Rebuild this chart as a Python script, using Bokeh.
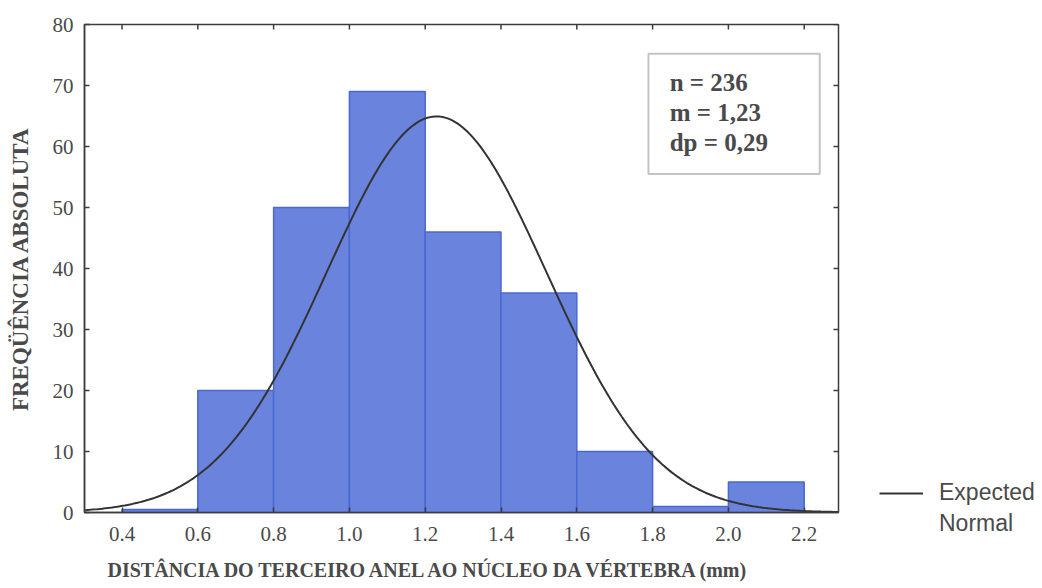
import numpy as np
from bokeh.plotting import figure
from bokeh.models import (FixedTicker, LinearAxis, Legend, LegendItem, Label, Title,
                          Range1d, ColumnDataSource, CustomJSTickFormatter, BoxAnnotation)
from bokeh.embed import file_html
from bokeh.resources import INLINE

# ---- data ----
bin_left = [0.4, 0.6, 0.8, 1.0, 1.2, 1.4, 1.6, 1.8, 2.0]
bin_right = [0.6, 0.8, 1.0, 1.2, 1.4, 1.6, 1.8, 2.0, 2.2]
counts = [0.5, 20, 50, 69, 46, 36, 10, 1, 5]
n_obs = 236
mean_val = 1.23
sd_val = 0.29
bin_width = 0.2
x_ticks = [0.4, 0.6, 0.8, 1.0, 1.2, 1.4, 1.6, 1.8, 2.0, 2.2]
y_ticks = [0, 10, 20, 30, 40, 50, 60, 70, 80]
stats_lines = ["n = 236", "m = 1,23", "dp = 0,29"]
x_title = "DISTÂNCIA DO TERCEIRO ANEL AO NÚCLEO DA VÉRTEBRA (mm)"
y_title = "FREQÜÊNCIA ABSOLUTA"
legend_lines = ["Expected", "Normal"]

SERIF = "Liberation Serif"
TXT = "#4a4a4a"
AX = "#3c3c3c"
X0, X1, Y0, Y1 = 0.301, 2.2905, 0, 80

p = figure(frame_width=754, frame_height=488, output_backend="svg", toolbar_location=None,
           x_range=Range1d(X0, X1), y_range=Range1d(Y0, Y1),
           min_border_left=84, min_border_right=204, min_border_top=24,
           min_border_bottom=76, x_axis_location=None, y_axis_location=None)
p.grid.visible = False
p.outline_line_color = AX
p.outline_line_width = 1.5
p.background_fill_color = "white"
p.border_fill_color = "white"

# axes
fmt = CustomJSTickFormatter(code="return tick.toFixed(1);")
xa = LinearAxis(ticker=FixedTicker(ticks=x_ticks), formatter=fmt)
ya = LinearAxis(ticker=FixedTicker(ticks=y_ticks), axis_label=y_title)
for ax in (xa, ya):
    ax.axis_line_color = AX
    ax.axis_line_width = 1.5
    ax.major_tick_in = 5
    ax.major_tick_out = 0
    ax.major_tick_line_color = AX
    ax.major_tick_line_width = 1.5
    ax.minor_tick_line_color = None
    ax.major_label_text_font = SERIF
    ax.major_label_text_font_size = "21px"
    ax.major_label_text_color = TXT
xa.major_label_standoff = 14
ya.major_label_standoff = 11
ya.axis_label_text_font = SERIF
ya.axis_label_text_font_style = "bold"
ya.axis_label_text_font_size = "23px"
ya.axis_label_text_color = TXT
ya.axis_label_standoff = 17
p.add_layout(xa, "below")
p.add_layout(ya, "left")

# x-axis title (left-aligned offset, as in the reference)
p.add_layout(Title(text=x_title, align="left", offset=23, text_font=SERIF,
                   text_font_style="bold", text_font_size="20px", text_color=TXT,
                   standoff=26), "below")

# inner ticks on top and right frame edges
p.ray(x=x_ticks, y=Y1, length=5, length_units="screen", angle=-np.pi / 2,
      line_color=AX, line_width=1.5)
p.ray(x=X1, y=y_ticks, length=5, length_units="screen", angle=np.pi,
      line_color=AX, line_width=1.5)

# histogram bars
src = ColumnDataSource(dict(left=bin_left, right=bin_right, top=counts))
p.quad(left="left", right="right", bottom=0, top="top", source=src,
       fill_color="#6a83dc", line_color="#4a67d4", line_width=1.5)

# expected normal curve from the displayed statistics
xs = np.linspace(X0, X1, 300)
ys = n_obs * bin_width * np.exp(-0.5 * ((xs - mean_val) / sd_val) ** 2) / (sd_val * np.sqrt(2 * np.pi))
curve = p.line(xs, ys, line_color="#333333", line_width=2)
blank = p.line([], [], line_alpha=0)

legend = Legend(items=[LegendItem(label=legend_lines[0], renderers=[curve]),
                       LegendItem(label=legend_lines[1], renderers=[blank])],
                location=(41, -25), border_line_color=None, background_fill_alpha=0,
                label_text_font="Liberation Sans", label_text_font_size="23px",
                label_text_color=TXT, glyph_width=44, label_standoff=16,
                padding=0, margin=0, spacing=4, label_height=26)
p.add_layout(legend, "right")

# stats box
p.add_layout(BoxAnnotation(left=1.789, right=2.241, bottom=55.5, top=75.2,
                           fill_alpha=0, line_color=AX, line_width=2))
for txt, yy in zip(stats_lines, [70.5, 65.6, 60.6]):
    p.add_layout(Label(x=1.845, y=yy, text=txt, text_font=SERIF,
                       text_font_style="bold", text_font_size="25px", text_color=TXT,
                       text_baseline="middle"))

out = file_html(p, INLINE)
open("out.html", "w").write(out)
